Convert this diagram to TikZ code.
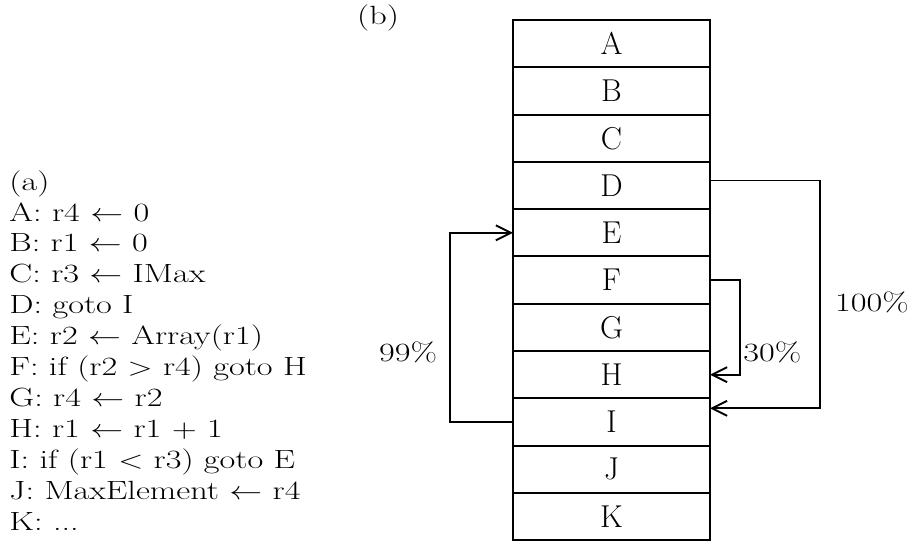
\documentclass[tikz,border=0pt]{standalone}
\usetikzlibrary{positioning,calc,arrows.meta}
\begin{document}
\begin{tikzpicture}[x=0.02cm, y=-0.02cm, font=\fontsize{15pt}{17.6pt}\selectfont, >={Straight Barb[length=3mm,width=3mm]}]
    \tikzstyle{every node}=[inner sep=0pt]
    \tikzstyle{wide}=[xscale=1.3, transform shape]
    \tikzstyle{slot}=[draw, line width=1.1pt, rectangle, minimum width=3.94cm, minimum height=0.946cm, outer sep=0pt, font=\fontsize{18pt}{18pt}\selectfont]
    \tikzstyle{loop}=[draw, line width=1.1pt, ->]
    \useasboundingbox (0,0) rectangle (908,548);
    % the program as text
    \node [wide, anchor=north west, align=left] (code) at (9,170) {(a)\\ A: r4 $\leftarrow$ 0\\ B: r1 $\leftarrow$ 0\\ C: r3 $\leftarrow$ IMax\\ D: goto I\\ E: r2 $\leftarrow$ Array(r1)\\ F: if (r2 $>$ r4) goto H\\ G: r4 $\leftarrow$ r2\\ H: r1 $\leftarrow$ r1 $+$ 1\\ I: if (r1 $<$ r3) goto E\\ J: MaxElement $\leftarrow$ r4\\ K: ...};
    \node [wide] (b) at (378,18) {(b)};
    % the blocks in memory
    \node [slot] (A) at (611.5,43.65) {A};
    \node [slot, below=0pt of A] (B) {B};
    \node [slot, below=0pt of B] (C) {C};
    \node [slot, below=0pt of C] (D) {D};
    \node [slot, below=0pt of D] (E) {E};
    \node [slot, below=0pt of E] (F) {F};
    \node [slot, below=0pt of F] (G) {G};
    \node [slot, below=0pt of G] (H) {H};
    \node [slot, below=0pt of H] (I) {I};
    \node [slot, below=0pt of I] (J) {J};
    \node [slot, below=0pt of J] (K) {K};
    % branches
    \coordinate (Dout) at ($(D.east)+(0,-5)$);
    \coordinate (Iin) at ($(I.north east)+(0,10)$);
    \coordinate (far) at (820,0);
    \coordinate (near) at (740,0);
    \coordinate (back) at (450,0);
    \draw [loop] (Dout) -- (Dout -| far) |- (Iin);
    \draw [loop] (F.east) -- (F.east -| near) |- (H.east);
    \draw [loop] (I.west) -- (I.west -| back) |- (E.west);
    \node [wide] (p100) at (872,302) {100\%};
    \node [wide, anchor=west] (p30) at (743,352) {30\%};
    \node [wide] (p99) at (408,352) {99\%};
\end{tikzpicture}
\end{document}
